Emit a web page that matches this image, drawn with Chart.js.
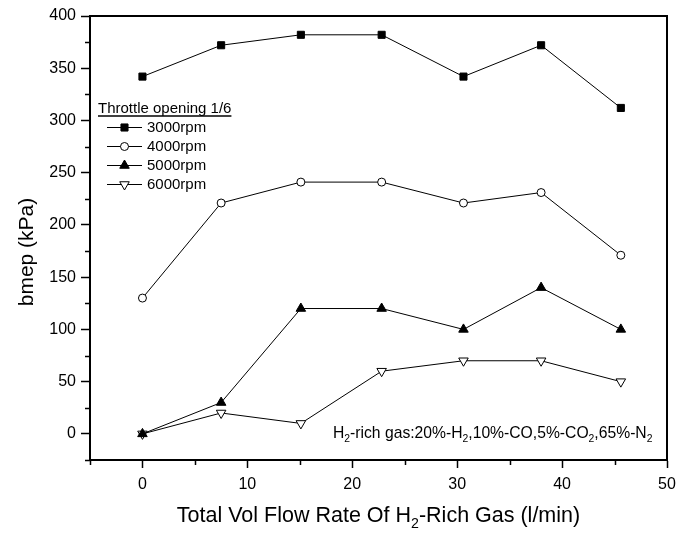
<!DOCTYPE html>
<html>
<head>
<meta charset="utf-8">
<script src="https://cdn.jsdelivr.net/npm/chart.js@4.4.1/dist/chart.umd.min.js"></script>
<style>
  html, body { margin: 0; padding: 0; background: #fff; }
  #wrap { width: 679px; height: 536px; position: relative; }
</style>
</head>
<body>
<div id="wrap"><canvas id="c"></canvas></div>
<script>
const FONT = "'Liberation Sans', Arial, Helvetica, sans-serif";

// ── Values ─────────────────────────────────────────────────────────────
const flowRate = [0, 7.5, 15.1, 22.8, 30.6, 38, 45.6];      // l/min
const bmep3000 = [342, 372, 382, 382, 342, 372, 312];      // kPa
const bmep4000 = [130, 221, 241, 241, 221, 231, 171];
const bmep5000 = [0, 30, 120, 120, 100, 140, 100];
const bmep6000 = [0, 20, 10, 60, 70, 70, 50];
const seriesLabels = ['3000rpm', '4000rpm', '5000rpm', '6000rpm'];

const xMajorTicks = [0, 10, 20, 30, 40, 50];
const xMinorTicks = [-5, 5, 15, 25, 35, 45];
const yMajorTicks = [0, 50, 100, 150, 200, 250, 300, 350, 400];
const yMinorTicks = [-25, 25, 75, 125, 175, 225, 275, 325, 375];

const legendTitle = 'Throttle opening 1/6';

// ── Helpers ─────────────────────────────────────────────────────────────
const pts = ys => flowRate.map((x, i) => ({ x, y: ys[i] }));

// draw text made of [string, isSubscript] parts; returns total width
function richText(ctx, parts, x, y, size, align) {
  const sub = size * 0.66;
  const widthOf = p => { ctx.font = (p[1] ? sub : size) + 'px ' + FONT; return ctx.measureText(p[0]).width; };
  const total = parts.reduce((s, p) => s + widthOf(p), 0);
  let cx = align === 'center' ? x - total / 2 : x;
  ctx.textAlign = 'left';
  ctx.textBaseline = 'alphabetic';
  for (const p of parts) {
    const w = widthOf(p);
    ctx.fillText(p[0], cx, p[1] ? y + size * 0.28 : y);
    cx += w;
  }
  return total;
}

// ── Plugin: frame, minor ticks, titles, legend, note ───────────────────
const decor = {
  id: 'decor',
  afterDraw(chart) {
    const { ctx, chartArea: a, scales } = chart;
    ctx.save();
    ctx.strokeStyle = '#000';
    ctx.fillStyle = '#000';

    // top + right frame
    ctx.lineWidth = 2;
    ctx.beginPath();
    ctx.moveTo(a.left, a.top); ctx.lineTo(a.right, a.top); ctx.lineTo(a.right, a.bottom);
    ctx.stroke();

    // minor ticks
    ctx.lineWidth = 1.5;
    ctx.beginPath();
    xMinorTicks.forEach(v => {
      const px = Math.round(scales.x.getPixelForValue(v)) + 0.5;
      ctx.moveTo(px, a.bottom); ctx.lineTo(px, a.bottom + 5);
    });
    yMinorTicks.forEach(v => {
      const py = Math.round(scales.y.getPixelForValue(v)) + 0.5;
      ctx.moveTo(a.left - 5, py); ctx.lineTo(a.left, py);
    });
    ctx.stroke();

    // axis titles
    richText(ctx, [['Total Vol Flow Rate Of H', 0], ['2', 1], ['-Rich Gas (l/min)', 0]],
      (a.left + a.right) / 2, 521.5, 21.5, 'center');
    ctx.save();
    ctx.translate(33, 252);
    ctx.rotate(-Math.PI / 2);
    richText(ctx, [['bmep (kPa)', 0]], 0, 0, 21, 'center');
    ctx.restore();

    // composition note
    richText(ctx, [['H', 0], ['2', 1], ['-rich gas:20%-H', 0], ['2', 1], [',10%-CO,5%-CO', 0],
      ['2', 1], [',65%-N', 0], ['2', 1]], 333, 438, 15.7, 'left');

    // legend
    const lx = 98, ty = 112.5;
    const tw = richText(ctx, [[legendTitle, 0]], lx, ty, 15, 'left');
    ctx.lineWidth = 1.5;
    ctx.beginPath(); ctx.moveTo(lx, ty + 3.5); ctx.lineTo(lx + tw, ty + 3.5); ctx.stroke();

    chart.data.datasets.forEach((ds, i) => {
      const y = 127 + i * 19;
      ctx.lineWidth = 1;
      ctx.strokeStyle = '#000';
      ctx.beginPath(); ctx.moveTo(107, y + 0.5); ctx.lineTo(142, y + 0.5); ctx.stroke();
      ctx.fillStyle = ds.pointBackgroundColor;
      ctx.strokeStyle = '#000';
      Chart.helpers.drawPoint(ctx, {
        pointStyle: ds.pointStyle, radius: ds.pointRadius,
        rotation: ds.pointRotation || 0, borderWidth: 1
      }, 124.5, y + 0.5);
      ctx.fillStyle = '#000';
      ctx.font = '15px ' + FONT;
      ctx.textBaseline = 'middle';
      ctx.textAlign = 'left';
      ctx.fillText(ds.label, 147, y + 1);
    });
    ctx.restore();
  }
};

function series(label, data, style, fill, radius, rotation) {
  return {
    label, data: pts(data),
    borderColor: '#000', borderWidth: 1,
    pointStyle: style, pointRadius: radius, pointHoverRadius: radius,
    pointRotation: rotation || 0,
    pointBackgroundColor: fill, pointBorderColor: '#000', pointBorderWidth: 1,
    tension: 0, fill: false
  };
}

Chart.defaults.font.family = FONT;
Chart.defaults.color = '#000';

new Chart(document.getElementById('c'), {
  type: 'line',
  data: {
    datasets: [
      series(seriesLabels[0], bmep3000, 'rect', '#000', 5),
      series(seriesLabels[1], bmep4000, 'circle', '#fff', 4),
      series(seriesLabels[2], bmep5000, 'triangle', '#000', 5.5),
      series(seriesLabels[3], bmep6000, 'triangle', '#fff', 5.5, 180)
    ]
  },
  options: {
    responsive: true,
    maintainAspectRatio: false,
    animation: false,
    layout: { padding: { top: 16, right: 12, left: 0, bottom: 0 } },
    plugins: { legend: { display: false }, tooltip: { enabled: false } },
    scales: {
      x: {
        type: 'linear', min: -5, max: 50,
        afterBuildTicks: s => { s.ticks = xMajorTicks.map(v => ({ value: v })); },
        afterFit: s => { s.height = 76; s.paddingLeft = 0; s.paddingRight = 0; },
        ticks: { font: { size: 16 }, color: '#000', padding: 7, maxRotation: 0 },
        grid: { drawOnChartArea: false, tickLength: 8, tickColor: '#000', tickWidth: 1.5 },
        border: { color: '#000', width: 2 }
      },
      y: {
        min: -25, max: 400,
        afterBuildTicks: s => { s.ticks = yMajorTicks.map(v => ({ value: v })); },
        afterFit: s => { s.width = 90; s.paddingTop = 0; s.paddingBottom = 0; },
        ticks: { font: { size: 16 }, color: '#000', padding: 5 },
        grid: { drawOnChartArea: false, tickLength: 9, tickColor: '#000', tickWidth: 1.5 },
        border: { color: '#000', width: 2 }
      }
    }
  },
  plugins: [decor]
});
</script>
</body>
</html>
